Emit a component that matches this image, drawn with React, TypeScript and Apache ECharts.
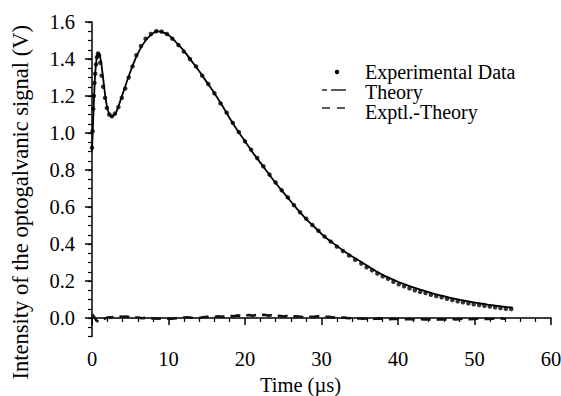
import React, { useEffect, useRef } from "react";
import * as echarts from "echarts";

const xTickLabels = ["0", "10", "20", "30", "40", "50", "60"];
const yTickValues = [0, 0.2, 0.4, 0.6, 0.8, 1.0, 1.2, 1.4, 1.6];

const expTimes = [0.0, 0.08, 0.16, 0.24, 0.32, 0.42, 0.52, 0.64, 0.78, 0.92, 1.08, 1.25, 1.45, 1.7, 1.95, 2.25, 2.6, 3.0, 3.45, 3.9, 4.35, 4.8, 5.3, 5.8, 6.4, 7.0, 7.7, 8.4, 9.1, 9.8, 10.5, 11.3, 12.0, 12.8, 13.6, 14.4, 15.2, 16.0, 16.8, 17.6, 18.4, 19.2, 20.0, 20.8, 21.6, 22.4, 23.2, 24.0, 24.8, 25.6, 26.4, 27.2, 28.0, 28.8, 29.6, 30.4, 31.2, 32.0, 32.8, 33.6, 34.4, 35.2, 35.9, 36.6, 37.3, 38.0, 38.7, 39.4, 40.1, 40.8, 41.5, 42.2, 42.9, 43.6, 44.3, 45.0, 45.7, 46.4, 47.1, 47.8, 48.5, 49.2, 49.9, 50.6, 51.3, 52.0, 52.7, 53.4, 54.1, 54.8];
const expValues = [0.92, 1.01, 1.13, 1.2, 1.27, 1.32, 1.37, 1.41, 1.43, 1.42, 1.38, 1.31, 1.25, 1.19, 1.135, 1.1, 1.09, 1.105, 1.14, 1.19, 1.24, 1.3, 1.36, 1.42, 1.47, 1.51, 1.535, 1.55, 1.548, 1.535, 1.51, 1.475, 1.44, 1.4, 1.36, 1.31, 1.265, 1.215, 1.16, 1.11, 1.055, 1.005, 0.955, 0.91, 0.865, 0.82, 0.775, 0.733, 0.69, 0.652, 0.61, 0.572, 0.537, 0.503, 0.472, 0.44, 0.413, 0.386, 0.362, 0.338, 0.315, 0.294, 0.274, 0.258, 0.24, 0.225, 0.212, 0.196, 0.182, 0.172, 0.16, 0.15, 0.141, 0.135, 0.126, 0.118, 0.112, 0.104, 0.097, 0.09, 0.085, 0.079, 0.074, 0.07, 0.066, 0.062, 0.058, 0.054, 0.05, 0.049];

const theoryTimes = [0, 0.2, 0.4, 0.6, 0.8, 1.0, 1.2, 1.5, 1.8, 2.1, 2.5, 3.0, 3.5, 4.0, 5, 6, 7, 8, 8.5, 9, 10, 11, 12, 13, 14, 15, 16, 17, 18, 19, 20, 21, 22, 23, 24, 25, 26, 27, 28, 29, 30, 31, 32, 33, 34, 35, 36, 37, 38, 39, 40, 41, 42, 43, 44, 45, 46, 47, 48, 49, 50, 51, 52, 53, 54, 55];
const theoryValues = [0.9, 1.12, 1.31, 1.4, 1.43, 1.42, 1.38, 1.28, 1.18, 1.12, 1.09, 1.1, 1.15, 1.21, 1.33, 1.43, 1.5, 1.54, 1.55, 1.548, 1.53, 1.49, 1.445, 1.39, 1.335, 1.275, 1.215, 1.15, 1.08, 1.015, 0.955, 0.895, 0.84, 0.785, 0.73, 0.68, 0.63, 0.58, 0.535, 0.495, 0.455, 0.42, 0.39, 0.36, 0.333, 0.308, 0.282, 0.257, 0.233, 0.214, 0.196, 0.18, 0.165, 0.152, 0.14, 0.128, 0.118, 0.108, 0.099, 0.091, 0.084, 0.077, 0.071, 0.065, 0.06, 0.056];

const residTimes = [0, 0.3, 0.6, 0.9, 1.2, 1.6, 2, 2.5, 3, 3.5, 4, 4.5, 5, 5.5, 6, 6.5, 7, 7.5, 8, 8.5, 9, 9.5, 10, 10.5, 11, 11.5, 12, 12.5, 13, 13.5, 14, 14.5, 15, 15.5, 16, 16.5, 17, 17.5, 18, 18.5, 19, 19.5, 20, 20.5, 21, 21.5, 22, 22.5, 23, 23.5, 24, 24.5, 25, 25.5, 26, 26.5, 27, 27.5, 28, 28.5, 29, 29.5, 30, 30.5, 31, 31.5, 32, 32.5, 33, 33.5, 34, 34.5, 35, 35.5, 36, 36.5, 37, 37.5, 38, 38.5, 39, 39.5, 40, 40.5, 41, 41.5, 42, 42.5, 43, 43.5, 44, 44.5, 45, 45.5, 46, 46.5, 47, 47.5, 48, 48.5, 49, 49.5, 50, 50.5, 51, 51.5, 52, 52.5, 53, 53.5, 54, 54.5, 55];
const residValues = [0.02, 0.005, -0.015, -0.02, -0.012, -0.005, 0.002, 0.004, 0.006, 0.009, 0.006, 0.008, 0.004, 0.002, 0.003, -0.001, 0.001, -0.003, -0.001, -0.004, -0.002, -0.005, -0.003, -0.004, -0.001, 0.001, 0.002, 0.004, 0.001, 0.003, 0.0, 0.004, 0.006, 0.008, 0.005, 0.009, 0.007, 0.011, 0.012, 0.009, 0.014, 0.011, 0.013, 0.016, 0.012, 0.017, 0.014, 0.018, 0.013, 0.015, 0.01, 0.012, 0.008, 0.011, 0.006, 0.009, 0.008, 0.005, 0.004, 0.007, 0.006, 0.009, 0.01, 0.007, 0.006, 0.003, 0.004, 0.001, 0.002, -0.001, 0.0, -0.003, -0.002, -0.004, -0.003, -0.006, -0.004, -0.002, -0.005, -0.007, -0.006, -0.004, -0.005, -0.008, -0.007, -0.005, -0.008, -0.009, -0.006, -0.008, -0.007, -0.01, -0.009, -0.006, -0.008, -0.007, -0.005, -0.008, -0.006, -0.004, -0.006, -0.007, -0.005, -0.003, -0.006, -0.004, -0.005, -0.003, -0.004, -0.002, -0.004];

const FONT = "'Liberation Serif', 'Times New Roman', Times, 'DejaVu Serif', serif";
const LEG_FS = 20;

export default function App() {
  const ref = useRef<HTMLDivElement>(null);
  useEffect(() => {
    const chart = echarts.init(ref.current!, null, { renderer: "svg" });
    const pair = (xs: number[], ys: number[]) => xs.map((x, i) => [x, ys[i]]);
    const txt = (fs: number) => ({ fontFamily: FONT, fontSize: fs, color: "#000" });
    const legText = (y: number, text: string) => ({
      type: "text",
      x: 365,
      y,
      style: { text, fontFamily: FONT, fontSize: LEG_FS, lineHeight: 18, fill: "#000", verticalAlign: "middle" },
    });
    chart.setOption({
      animation: false,
      backgroundColor: "#fff",
      textStyle: { fontFamily: FONT },
      grid: { left: 92, right: 10, top: 22, bottom: 59.5, outerBoundsMode: "none" },
      xAxis: {
        type: "value",
        min: 0,
        max: 60,
        interval: 10,
        name: "Time (\u00b5s)",
        nameLocation: "middle",
        nameGap: 35,
        nameTextStyle: { ...txt(20.5), padding: [0, 42, 0, 0] },
        axisLine: { lineStyle: { color: "#000", width: 1.5 } },
        axisTick: { length: 7, lineStyle: { color: "#000", width: 1.5 } },
        minorTick: { show: true, splitNumber: 5, length: 4, lineStyle: { color: "#000", width: 1.2 } },
        splitLine: { show: false },
        axisLabel: {
          ...txt(20.5),
          margin: 12,
          formatter: (v: number) => xTickLabels[Math.round(v / 10)] ?? "",
        },
      },
      yAxis: [
        {
          type: "value",
          min: -0.1,
          max: 1.6,
          interval: 0.05,
          axisLine: { show: true, lineStyle: { color: "#000", width: 1.5 } },
          axisTick: { length: 4, lineStyle: { color: "#000", width: 1.2 } },
          axisLabel: { show: false },
          splitLine: { show: false },
        },
        {
          type: "value",
          min: -0.1,
          max: 1.6,
          interval: 0.05,
          position: "left",
          offset: 0,
          name: "Intensity of the optogalvanic signal (V)",
          nameLocation: "middle",
          nameGap: 60,
          nameRotate: 90,
          nameTextStyle: { ...txt(22.5), padding: [0, 46, 0, 0] },
          axisLine: { show: false },
          axisTick: { show: true, length: 7, customValues: yTickValues, lineStyle: { color: "#000", width: 1.5 } },
          axisLabel: {
            ...txt(20.5),
            margin: 17,
            customValues: yTickValues,
            formatter: (v: number) => v.toFixed(1),
          },
          splitLine: { show: false },
        },
      ],
      series: [
        {
          name: "Theory",
          type: "line",
          data: pair(theoryTimes, theoryValues),
          showSymbol: false,
          smooth: 0.3,
          lineStyle: { color: "#000", width: 1.8 },
          z: 2,
        },
        {
          name: "Experimental Data",
          type: "scatter",
          data: pair(expTimes, expValues),
          symbol: "circle",
          symbolSize: 4.5,
          itemStyle: { color: "#000" },
          z: 3,
        },
        {
          name: "Exptl.-Theory",
          type: "line",
          data: pair(residTimes, residValues),
          showSymbol: false,
          lineStyle: { color: "#111", width: 2.6, type: [10, 6] },
          z: 2,
        },
      ],
      graphic: [
        { type: "circle", shape: { cx: 337, cy: 72, r: 2.2 }, style: { fill: "#000" } },
        legText(72, "Experimental Data"),
        { type: "line", shape: { x1: 322, y1: 90, x2: 327, y2: 90 }, style: { stroke: "#000", lineWidth: 1.3 } },
        { type: "line", shape: { x1: 331, y1: 90, x2: 346, y2: 90 }, style: { stroke: "#000", lineWidth: 1.3 } },
        legText(92, "Theory"),
        { type: "line", shape: { x1: 322, y1: 108, x2: 330, y2: 108 }, style: { stroke: "#000", lineWidth: 1.3 } },
        { type: "line", shape: { x1: 337, y1: 108, x2: 345, y2: 108 }, style: { stroke: "#000", lineWidth: 1.3 } },
        legText(112, "Exptl.-Theory"),
      ],
    });
    return () => chart.dispose();
  }, []);
  return <div ref={ref} style={{ position: "fixed", left: 0, top: 0, width: 561, height: 396 }} />;
}
